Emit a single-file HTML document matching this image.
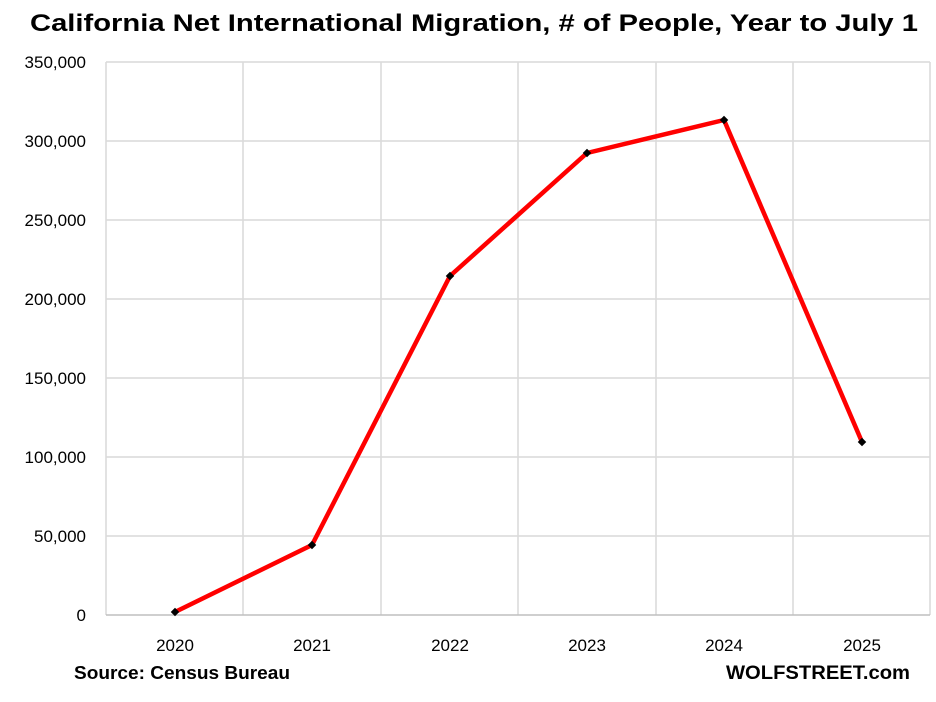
<!DOCTYPE html>
<html><head><meta charset="utf-8"><style>
html,body{margin:0;padding:0;background:#fff;}
svg{display:block;font-family:"Liberation Sans",Arial,sans-serif;}
</style></head><body>
<svg width="936" height="702" viewBox="0 0 936 702" xmlns="http://www.w3.org/2000/svg">
<rect width="936" height="702" fill="#fff"/>
<text x="474" y="31" text-anchor="middle" font-size="24" font-weight="bold" textLength="888" lengthAdjust="spacingAndGlyphs">California Net International Migration, # of People, Year to July 1</text>
<g stroke="#d9d9d9" stroke-width="1.5">
<line x1="106" y1="62" x2="930" y2="62"/>
<line x1="106" y1="141" x2="930" y2="141"/>
<line x1="106" y1="220" x2="930" y2="220"/>
<line x1="106" y1="299" x2="930" y2="299"/>
<line x1="106" y1="378" x2="930" y2="378"/>
<line x1="106" y1="457" x2="930" y2="457"/>
<line x1="106" y1="536" x2="930" y2="536"/>
<line x1="106" y1="62" x2="106" y2="615"/>
<line x1="243" y1="62" x2="243" y2="615"/>
<line x1="381" y1="62" x2="381" y2="615"/>
<line x1="518" y1="62" x2="518" y2="615"/>
<line x1="656" y1="62" x2="656" y2="615"/>
<line x1="793" y1="62" x2="793" y2="615"/>
<line x1="930" y1="62" x2="930" y2="615"/>
</g>
<line x1="106" y1="615" x2="930" y2="615" stroke="#bfbfbf" stroke-width="1.5"/>
<g font-size="17" text-anchor="end" fill="#000">
<text x="86" y="68">350,000</text>
<text x="86" y="147">300,000</text>
<text x="86" y="226">250,000</text>
<text x="86" y="305">200,000</text>
<text x="86" y="384">150,000</text>
<text x="86" y="463">100,000</text>
<text x="86" y="542">50,000</text>
<text x="86" y="621">0</text>
</g>
<g font-size="17" text-anchor="middle">
<text x="175" y="651">2020</text>
<text x="312" y="651">2021</text>
<text x="450" y="651">2022</text>
<text x="587" y="651">2023</text>
<text x="724" y="651">2024</text>
<text x="862" y="651">2025</text>
</g>
<polyline points="175,612 312,545 450,276 587,153 724,120 862,442" fill="none" stroke="#ff0000" stroke-width="4.5" stroke-linejoin="round"/>
<g fill="#000">
<rect x="172" y="609" width="6" height="6" transform="rotate(45 175 612)"/>
<rect x="309" y="542" width="6" height="6" transform="rotate(45 312 545)"/>
<rect x="447" y="273" width="6" height="6" transform="rotate(45 450 276)"/>
<rect x="584" y="150" width="6" height="6" transform="rotate(45 587 153)"/>
<rect x="721" y="117" width="6" height="6" transform="rotate(45 724 120)"/>
<rect x="859" y="439" width="6" height="6" transform="rotate(45 862 442)"/>
</g>
<text x="74" y="679" font-size="18" font-weight="bold" textLength="216" lengthAdjust="spacingAndGlyphs">Source: Census Bureau</text>
<text x="910" y="679" font-size="19" font-weight="bold" text-anchor="end" textLength="184" lengthAdjust="spacingAndGlyphs">WOLFSTREET.com</text>
</svg>
</body></html>
